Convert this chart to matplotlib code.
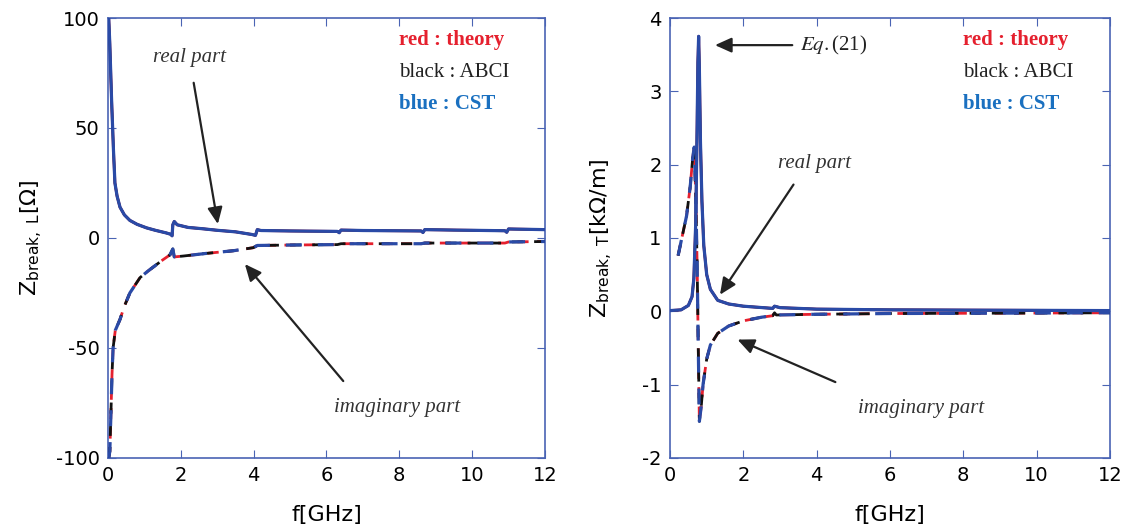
import matplotlib
matplotlib.use("Agg")
import matplotlib.pyplot as plt

plt.rcParams['axes.unicode_minus'] = False

# --- longitudinal (left panel) ---
fL_re = [0.02, 0.05, 0.1, 0.15, 0.19, 0.25, 0.33, 0.45, 0.6, 0.8, 1.06, 1.3, 1.6, 1.72, 1.76, 1.78, 1.82, 1.9,
         2.2, 2.6, 3.0, 3.5, 3.95, 4.05, 4.1, 4.2, 5.0, 6.3, 6.35, 6.4, 7.0, 8.6, 8.65, 8.7, 9.5, 10.9, 10.95, 11.0, 12.0]
zL_re = [100, 88, 62, 40, 25, 19, 14, 10.5, 8, 6.2, 4.6, 3.5, 2.3, 1.7, 1.0, 6.0, 7.5, 6.0,
         4.8, 4.2, 3.5, 2.8, 1.6, 1.2, 3.8, 3.4, 3.2, 3.0, 2.4, 3.6, 3.4, 3.2, 2.5, 3.8, 3.6, 3.3, 2.6, 4.1, 3.8]
fL_im = [0.02, 0.05, 0.08, 0.11, 0.14, 0.2, 0.33, 0.45, 0.6, 0.88, 1.1, 1.34, 1.5, 1.7, 1.78, 1.82, 2.07, 2.7,
         3.44, 3.99, 4.1, 5.0, 6.3, 6.4, 8.6, 8.7, 10.9, 11.0, 12.0]
zL_im = [-100, -97, -80, -62, -50, -42, -37, -31, -25, -18, -15, -12, -10, -7.7, -5.0, -8.6, -8.2, -7.0,
         -5.8, -4.4, -3.4, -3.2, -3.0, -2.6, -2.6, -2.3, -2.3, -1.8, -1.6]

# --- transverse (right panel) ---
fT_re = [0.0, 0.3, 0.5, 0.6, 0.65, 0.7, 0.73, 0.76, 0.78, 0.8, 0.83, 0.87, 0.92, 1.0, 1.1, 1.3, 1.6,
         2.0, 2.8, 2.85, 3.0, 4.0, 6.0, 12.0]
zT_re = [0.01, 0.02, 0.08, 0.2, 0.45, 1.2, 2.2, 3.4, 3.75, 3.3, 2.3, 1.5, 0.9, 0.5, 0.3, 0.15, 0.1,
         0.07, 0.04, 0.07, 0.05, 0.03, 0.02, 0.01]
fT_im = [0.22, 0.3, 0.45, 0.55, 0.62, 0.66, 0.7, 0.74, 0.77, 0.8, 0.85, 0.9, 1.0, 1.1, 1.3, 1.6,
         2.0, 2.5, 2.8, 2.85, 2.9, 4.0, 6.0, 12.0]
zT_im = [0.76, 0.95, 1.3, 1.7, 2.1, 2.24, 1.6, 0.6, -0.5, -1.5, -1.3, -1.0, -0.65, -0.46, -0.3, -0.2,
         -0.13, -0.08, -0.06, -0.02, -0.05, -0.04, -0.03, -0.02]

xticks = [0, 2, 4, 6, 8, 10, 12]
yticksL = [-100, -50, 0, 50, 100]
yticksT = [-2, -1, 0, 1, 2, 3, 4]

RED = '#e5202e'
BLACK = '#111111'
BLUE = '#2a4aa6'
SPINE = '#4a64b4'
LEG_BLUE = '#1a70c0'
SERIF = 'Liberation Serif'

fig = plt.figure(figsize=(11.25, 5.31), dpi=100)
axL = fig.add_axes([0.096, 0.1375, 0.3884, 0.8286])
axT = fig.add_axes([0.5956, 0.1375, 0.391, 0.8286])


def draw_panel(ax, f_re, z_re, f_im, z_im):
    # theory (red), ABCI (black), CST (blue) on top
    ax.plot(f_re, z_re, color=RED, lw=2.0, zorder=2)
    ax.plot(f_re, z_re, color=BLACK, lw=1.6, zorder=3)
    ax.plot(f_re, z_re, color=BLUE, lw=2.3, zorder=4)
    ax.plot(f_im, z_im, color=RED, lw=2.0, dashes=(4, 3), zorder=2)
    ax.plot(f_im, z_im, color=BLACK, lw=2.0, dashes=(4, 4), dash_capstyle='butt', zorder=3)
    ax.plot(f_im, z_im, color=BLUE, lw=2.3, dashes=(5, 5), dash_capstyle='butt', zorder=4)
    ax.set_xlim(0, 12)
    ax.set_xticks(xticks)
    ax.tick_params(direction='in', top=True, right=True, length=6, color=SPINE,
                   labelsize=14, pad=6)
    for s in ax.spines.values():
        s.set_color(SPINE)
        s.set_linewidth(1.2)
    ax.set_xlabel('f[GHz]', fontsize=16, labelpad=14)
    # legend as coloured text
    ax.text(0.665, 0.95, 'red : theory', transform=ax.transAxes, color=RED,
            family=SERIF, fontweight='bold', fontsize=15, va='center')
    ax.text(0.665, 0.877, 'black : ABCI', transform=ax.transAxes, color='#222222',
            family=SERIF, fontsize=15, va='center')
    ax.text(0.665, 0.805, 'blue : CST', transform=ax.transAxes, color=LEG_BLUE,
            family=SERIF, fontweight='bold', fontsize=15, va='center')


draw_panel(axL, fL_re, zL_re, fL_im, zL_im)
axL.set_ylim(-100, 100)
axL.set_yticks(yticksL)
axL.set_ylabel(r'Z$_{\mathrm{break,\ L}}$[$\Omega$]', fontsize=16)
axL.yaxis.set_label_coords(-0.145, 0.5)

arrow = dict(arrowstyle='-|>,head_length=1.0,head_width=0.45', color='#222222', lw=1.6)
axL.text(2.25, 82, 'real part', family=SERIF, style='italic', fontsize=15,
         color='#333333', ha='center', va='center')
axL.annotate('', xy=(3.03, 5.1), xytext=(2.34, 71.8), arrowprops=arrow)
axL.text(7.94, -77, 'imaginary part', family=SERIF, style='italic', fontsize=15,
         color='#333333', ha='center', va='center')
axL.annotate('', xy=(3.71, -10.9), xytext=(6.51, -66), arrowprops=arrow)

draw_panel(axT, fT_re, zT_re, fT_im, zT_im)
axT.set_ylim(-2, 4)
axT.set_yticks(yticksT)
axT.set_ylabel(r'Z$_{\mathrm{break,\ T}}$[k$\Omega$/m]', fontsize=16)
axT.yaxis.set_label_coords(-0.125, 0.5)

axT.text(3.55, 3.63, r'$Eq.$(21)', family=SERIF, fontsize=15, color='#222222',
         ha='left', va='center', math_fontfamily='stix')
axT.annotate('', xy=(1.15, 3.63), xytext=(3.41, 3.63), arrowprops=arrow)
axT.text(3.95, 2.02, 'real part', family=SERIF, style='italic', fontsize=15,
         color='#333333', ha='center', va='center')
axT.annotate('', xy=(1.32, 0.195), xytext=(3.41, 1.76), arrowprops=arrow)
axT.text(6.85, -1.32, 'imaginary part', family=SERIF, style='italic', fontsize=15,
         color='#333333', ha='center', va='center')
axT.annotate('', xy=(1.77, -0.37), xytext=(4.58, -0.98), arrowprops=arrow)

fig.savefig('out.png', dpi=100)
